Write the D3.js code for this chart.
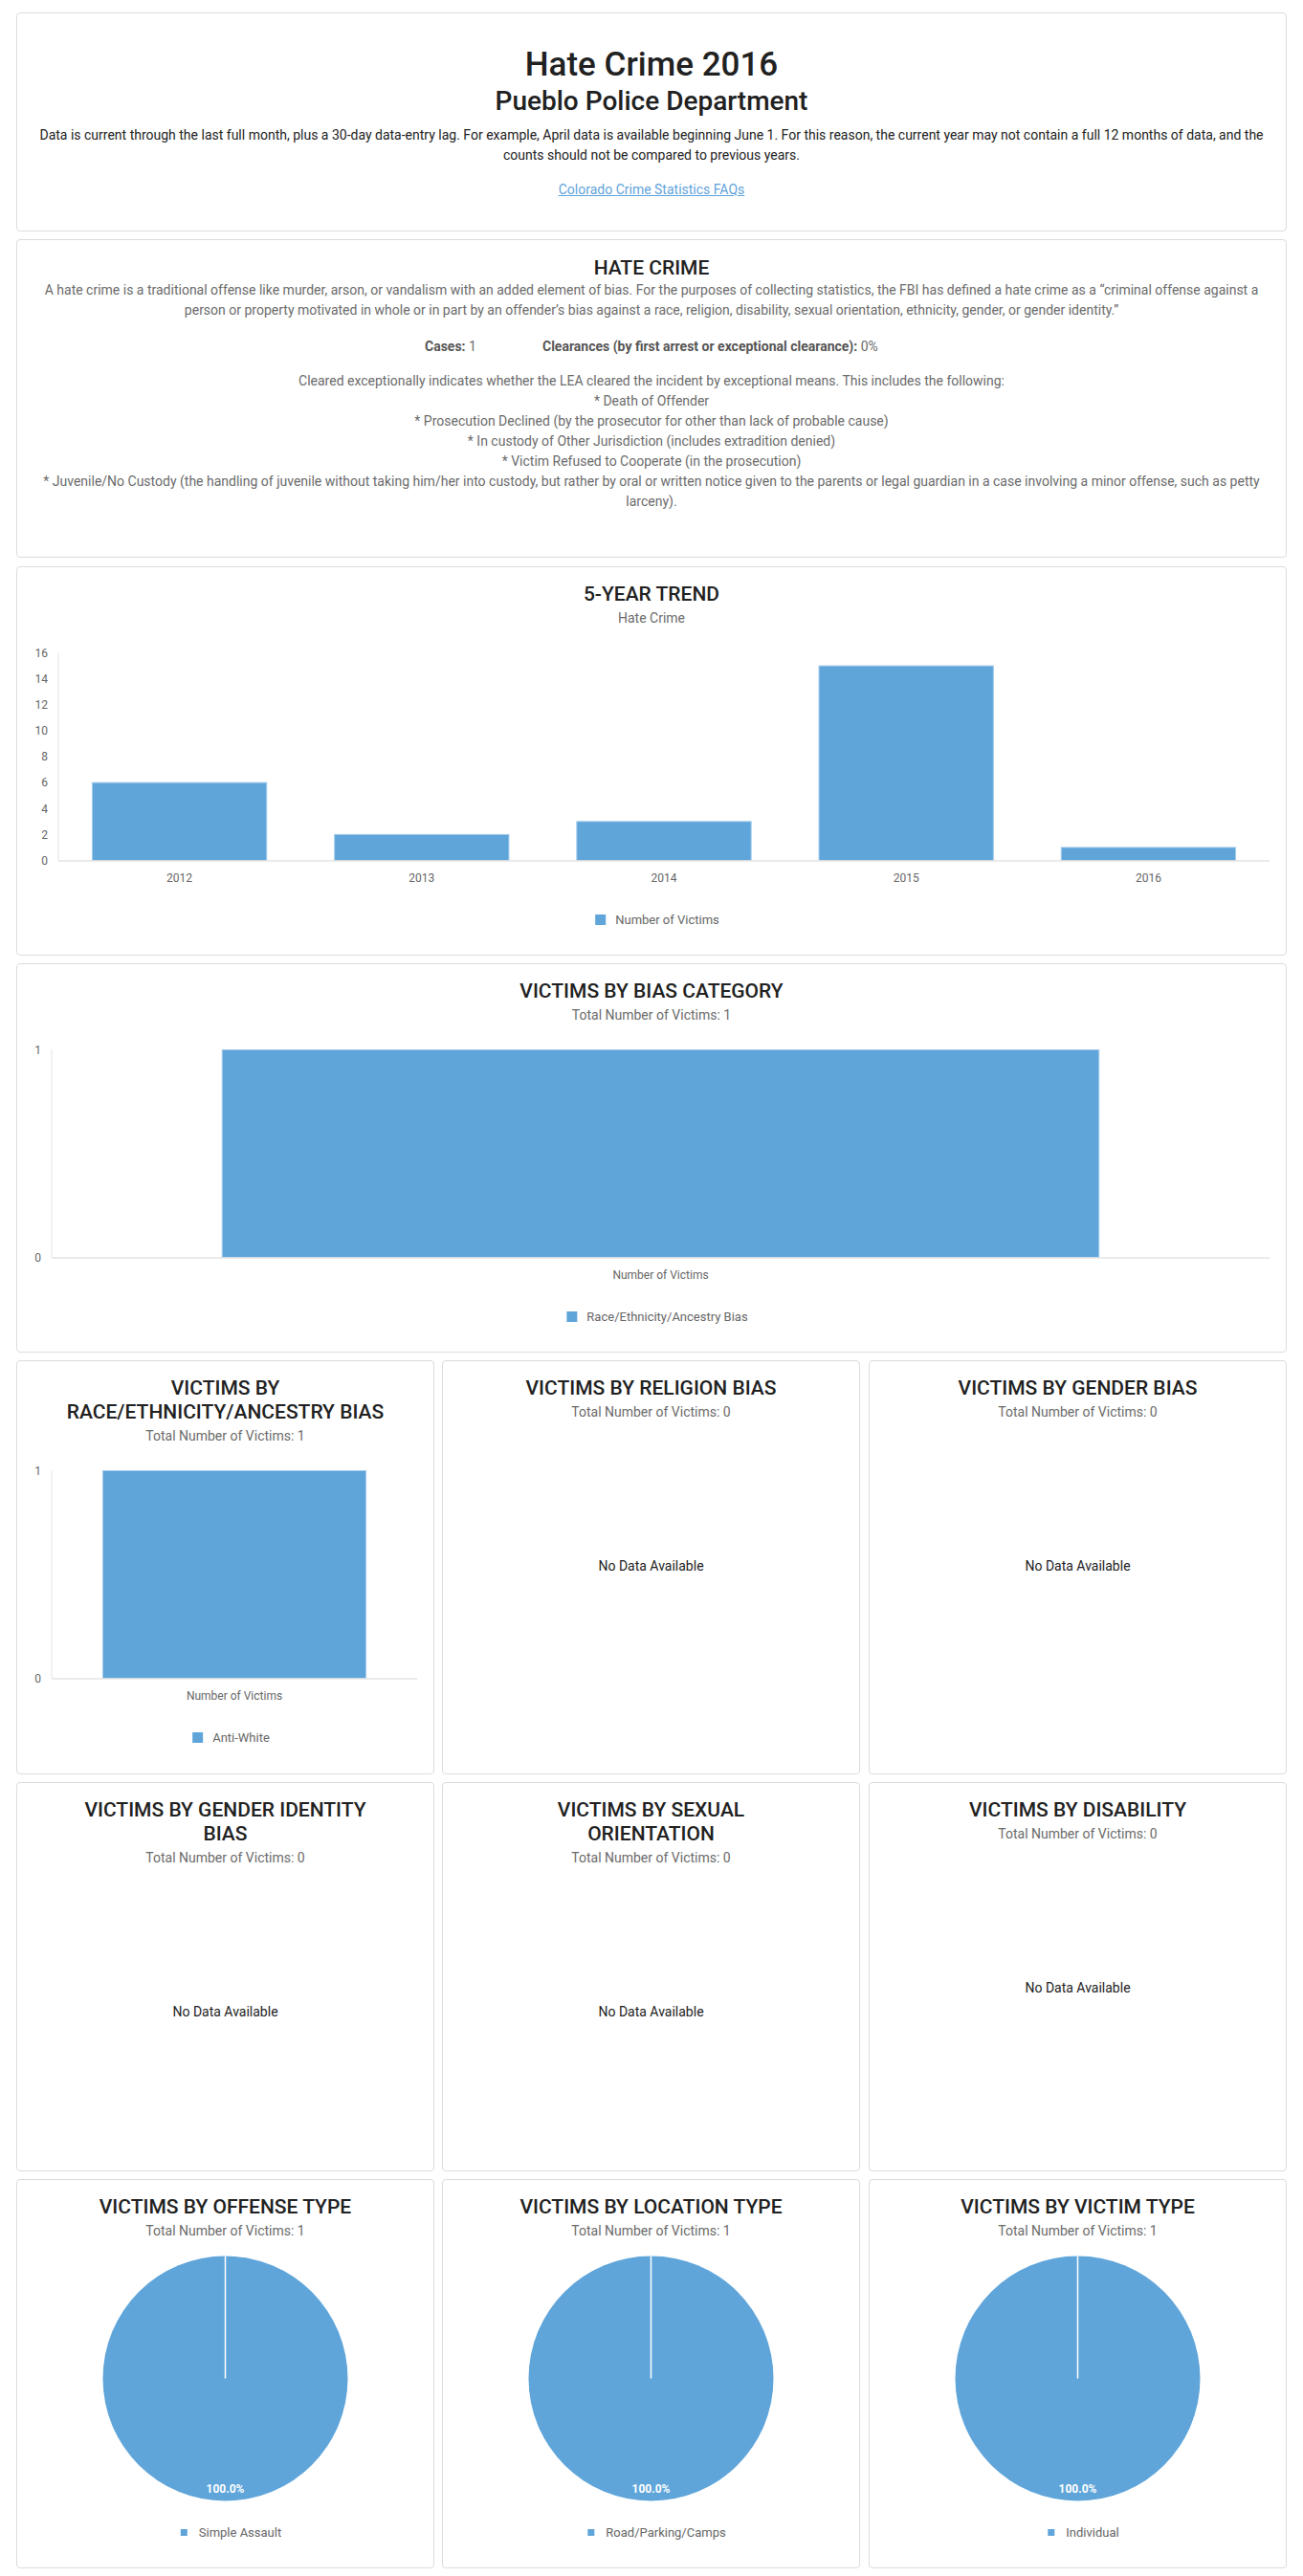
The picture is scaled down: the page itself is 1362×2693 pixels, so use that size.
<!DOCTYPE html>
<html><head><meta charset="utf-8">
<script src="https://cdn.jsdelivr.net/npm/d3@7"></script>
<style>
body{margin:0;background:#fff;font-family:Roboto,"Noto Sans",sans-serif;}
#root{position:relative;width:1362px;height:2693px;overflow:hidden;background:#fff;}
.panel{position:absolute;box-sizing:border-box;border:1px solid #dcdcdc;border-radius:4px;background:#fff;}
.t{position:absolute;left:0;width:100%;text-align:center;white-space:nowrap;}
.panel svg{position:absolute;left:-1px;top:-1px;overflow:visible;}
a{color:#5fa3dc;text-decoration:underline;}
</style></head><body><div id="root"></div>
<script>
// ---------------- DATA ----------------
const pageTitle = "Hate Crime 2016";
const agencyName = "Pueblo Police Department";
const introLines = [
  "Data is current through the last full month, plus a 30-day data-entry lag. For example, April data is available beginning June 1. For this reason, the current year may not contain a full 12 months of data, and the",
  "counts should not be compared to previous years."
];
const faqLink = "Colorado Crime Statistics FAQs";
const defLines = [
  "A hate crime is a traditional offense like murder, arson, or vandalism with an added element of bias. For the purposes of collecting statistics, the FBI has defined a hate crime as a \u201Ccriminal offense against a",
  "person or property motivated in whole or in part by an offender\u2019s bias against a race, religion, disability, sexual orientation, ethnicity, gender, or gender identity.\u201D"
];
const casesCount = 1;
const clearanceRate = "0%";
const clearedLines = [
  "Cleared exceptionally indicates whether the LEA cleared the incident by exceptional means. This includes the following:",
  "* Death of Offender",
  "* Prosecution Declined (by the prosecutor for other than lack of probable cause)",
  "* In custody of Other Jurisdiction (includes extradition denied)",
  "* Victim Refused to Cooperate (in the prosecution)",
  "* Juvenile/No Custody (the handling of juvenile without taking him/her into custody, but rather by oral or written notice given to the parents or legal guardian in a case involving a minor offense, such as petty",
  "larceny)."
];

const trendYears = ["2012", "2013", "2014", "2015", "2016"];
const trendVictims = [6, 2, 3, 15, 1];
const trendTicks = [0, 2, 4, 6, 8, 10, 12, 14, 16];
const trendSeries = "Number of Victims";

const biasGroup = ["Number of Victims"];
const biasCategories = ["Race/Ethnicity/Ancestry Bias"];
const biasVictims = [1];
const biasTicks = [0, 1];

const raceCategories = ["Anti-White"];
const raceVictims = [1];
const raceTicks = [0, 1];

const offenseTypes = ["Simple Assault"];
const offenseVictims = [1];
const locationTypes = ["Road/Parking/Camps"];
const locationVictims = [1];
const victimTypes = ["Individual"];
const victimTypeVictims = [1];

const noDataText = "No Data Available";
const barColor = "#5fa5da";

// ---------------- HELPERS ----------------
const root = d3.select("#root");
function panel(x, y, w, h){
  const d = root.append("div").attr("class","panel")
    .style("left", x+"px").style("top", y+"px").style("width", w+"px").style("height", h+"px");
  return {d, x, y, w, h};
}
function line(p, cy, html, size, color, weight, lh){
  lh = lh || Math.round(size*1.5);
  return p.d.append("div").attr("class","t")
    .style("top", (cy - 1 - lh/2)+"px").style("height", lh+"px").style("line-height", lh+"px")
    .style("font-size", size+"px").style("color", color).style("font-weight", weight||400)
    .html(html);
}
function header(p, titleLines, subtitle){
  let cy = 29.5;
  titleLines.forEach((t,i)=>{ line(p, cy + i*25, t, 21, "#212121", 500, 25); });
  const sub = cy + (titleLines.length-1)*25 + 24;
  line(p, sub, subtitle, 14, "#6b6b6b", 400, 20);
  return sub;
}
function svgOf(p){ return p.d.append("svg").attr("width", p.w).attr("height", p.h); }

function legend(svg, cx, cy, names, box, gap, font){
  const g = svg.append("g");
  names.forEach(n=>{
    const t = g.append("text").text(n).attr("font-size", font).attr("fill","#666")
      .attr("font-family","Roboto").attr("dominant-baseline","central");
    const tw = t.node().getComputedTextLength();
    const left = cx + 6 - (box + gap + tw)/2;
    t.attr("x", left + box + gap).attr("y", cy);
    g.append("rect").attr("x", left).attr("y", cy - box/2).attr("width", box).attr("height", box).attr("fill", barColor);
  });
}

function barChart(p, sub, groups, seriesNames, values, ticks, left){
  const svg = svgOf(p);
  const y0 = sub + 254, y1 = sub + 37;
  const right = p.w - 18;
  const y = d3.scaleLinear().domain([0, d3.max(ticks)]).range([y0, y1]);
  const x = d3.scaleBand().domain(groups).range([left, right]).paddingInner(0.28).paddingOuter(0.14);
  svg.append("line").attr("x1", left).attr("x2", left).attr("y1", y1).attr("y2", y0).attr("stroke","#e3e3e3");
  const ya = svg.append("g").attr("transform", `translate(${left},0)`)
    .call(d3.axisLeft(y).tickValues(ticks).tickSize(0).tickPadding(11).tickFormat(d3.format("d")));
  ya.select(".domain").remove();
  ya.selectAll("text").attr("fill","#666").attr("font-size",12).attr("font-family","Roboto");
  const data = seriesNames.length === 1 && groups.length === values.length
    ? groups.map((g,i)=>({g, v: values[i]}))
    : seriesNames.map((s,i)=>({g: groups[0], v: values[i]}));
  svg.append("g").selectAll("rect").data(data).join("rect")
    .attr("x", d=>x(d.g)).attr("width", x.bandwidth())
    .attr("y", d=>y(d.v)).attr("height", d=>y(0)-y(d.v))
    .attr("fill", barColor).attr("stroke","#a3cbeb").attr("stroke-width",1);
  svg.append("line").attr("x1", left).attr("x2", right).attr("y1", y0+0.5).attr("y2", y0+0.5).attr("stroke","#e3e3e3").attr("stroke-width",1.5);
  const xa = svg.append("g").attr("transform", `translate(0,${y0})`)
    .call(d3.axisBottom(x).tickSize(0).tickPadding(14));
  xa.select(".domain").remove();
  xa.selectAll("text").attr("fill","#666").attr("font-size",12).attr("font-family","Roboto");
  legend(svg, p.w/2, sub + 316, seriesNames, 11, 10, 13);
}

function pieChart(p, sub, names, values){
  const svg = svgOf(p);
  const cx = p.w/2, cy = sub + 155, r = 128;
  const pie = d3.pie().sort(null)(values);
  const arc = d3.arc().innerRadius(0).outerRadius(r);
  const lab = d3.arc().innerRadius(r*0.9).outerRadius(r*0.9);
  const total = d3.sum(values);
  const g = svg.append("g").attr("transform", `translate(${cx},${cy})`);
  g.selectAll("path").data(pie).join("path").attr("d", arc).attr("fill", barColor);
  g.selectAll("line.sep").data(pie).join("line").attr("class","sep")
    .attr("x1",0).attr("y1",0)
    .attr("x2", d=>r*Math.sin(d.startAngle)).attr("y2", d=>-r*Math.cos(d.startAngle))
    .attr("stroke","#fff").attr("stroke-width",1.5);
  g.selectAll("text").data(pie).join("text")
    .attr("transform", d=>`translate(${lab.centroid(d)})`)
    .attr("text-anchor","middle").attr("dominant-baseline","central")
    .attr("fill","#fff").attr("font-size",12).attr("font-weight",700).attr("font-family","Roboto")
    .text(d=>d3.format(".1%")(d.value/total));
  legend(svg, p.w/2, sub + 316, names, 7, 12, 13);
}

function noData(p, sub){ line(p, sub + 161, noDataText, 14, "#222", 400, 20); }

// ---------------- PAGE ----------------
const p1 = panel(17, 13, 1328, 229);
line(p1, 55, pageTitle, 35, "#212121", 500, 40);
line(p1, 93, agencyName, 28, "#212121", 500, 34);
introLines.forEach((t,i)=> line(p1, 128 + i*21, t, 14, "#222", 400, 21));
line(p1, 185, `<a href="#">${faqLink}</a>`, 14, "#5fa3dc", 400, 21);

const p2 = panel(17, 250, 1328, 333);
line(p2, 30, "HATE CRIME", 21, "#212121", 500, 25);
defLines.forEach((t,i)=> line(p2, 53 + i*21, t, 14, "#6b6b6b", 400, 21));
p2.d.append("div").attr("class","t").style("left","426px").style("width","auto")
  .style("top",(112-1-10.5)+"px").style("line-height","21px").style("font-size","14px").style("color","#6b6b6b")
  .html(`<b style="color:#555">Cases:</b> ${casesCount}`);
p2.d.append("div").attr("class","t").style("left","549px").style("width","auto")
  .style("top",(112-1-10.5)+"px").style("line-height","21px").style("font-size","14px").style("color","#6b6b6b")
  .html(`<b style="color:#555">Clearances (by first arrest or exceptional clearance):</b> ${clearanceRate}`);
clearedLines.forEach((t,i)=> line(p2, 148 + i*21, t, 14, "#6b6b6b", 400, 21));

const p3 = panel(17, 592, 1328, 407);
let s = header(p3, ["5-YEAR TREND"], "Hate Crime");
barChart(p3, s, trendYears, [trendSeries], trendVictims, trendTicks, 44);

const p4 = panel(17, 1007, 1328, 407);
s = header(p4, ["VICTIMS BY BIAS CATEGORY"], "Total Number of Victims: " + d3.sum(biasVictims));
barChart(p4, s, biasGroup, biasCategories, biasVictims, biasTicks, 37);

const colX = [17, 462, 908], colW = 437;
const p5a = panel(colX[0], 1422, colW, 433);
s = header(p5a, ["VICTIMS BY", "RACE/ETHNICITY/ANCESTRY BIAS"], "Total Number of Victims: " + d3.sum(raceVictims));
barChart(p5a, s, biasGroup, raceCategories, raceVictims, raceTicks, 37);

const p5b = panel(colX[1], 1422, colW, 433);
s = header(p5b, ["VICTIMS BY RELIGION BIAS"], "Total Number of Victims: 0"); noData(p5b, s);
const p5c = panel(colX[2], 1422, colW, 433);
s = header(p5c, ["VICTIMS BY GENDER BIAS"], "Total Number of Victims: 0"); noData(p5c, s);

const p6a = panel(colX[0], 1863, colW, 407);
s = header(p6a, ["VICTIMS BY GENDER IDENTITY", "BIAS"], "Total Number of Victims: 0"); noData(p6a, s);
const p6b = panel(colX[1], 1863, colW, 407);
s = header(p6b, ["VICTIMS BY SEXUAL", "ORIENTATION"], "Total Number of Victims: 0"); noData(p6b, s);
const p6c = panel(colX[2], 1863, colW, 407);
s = header(p6c, ["VICTIMS BY DISABILITY"], "Total Number of Victims: 0"); noData(p6c, s);

const p7a = panel(colX[0], 2278, colW, 407);
s = header(p7a, ["VICTIMS BY OFFENSE TYPE"], "Total Number of Victims: " + d3.sum(offenseVictims));
pieChart(p7a, s, offenseTypes, offenseVictims);
const p7b = panel(colX[1], 2278, colW, 407);
s = header(p7b, ["VICTIMS BY LOCATION TYPE"], "Total Number of Victims: " + d3.sum(locationVictims));
pieChart(p7b, s, locationTypes, locationVictims);
const p7c = panel(colX[2], 2278, colW, 407);
s = header(p7c, ["VICTIMS BY VICTIM TYPE"], "Total Number of Victims: " + d3.sum(victimTypeVictims));
pieChart(p7c, s, victimTypes, victimTypeVictims);
</script></body></html>
